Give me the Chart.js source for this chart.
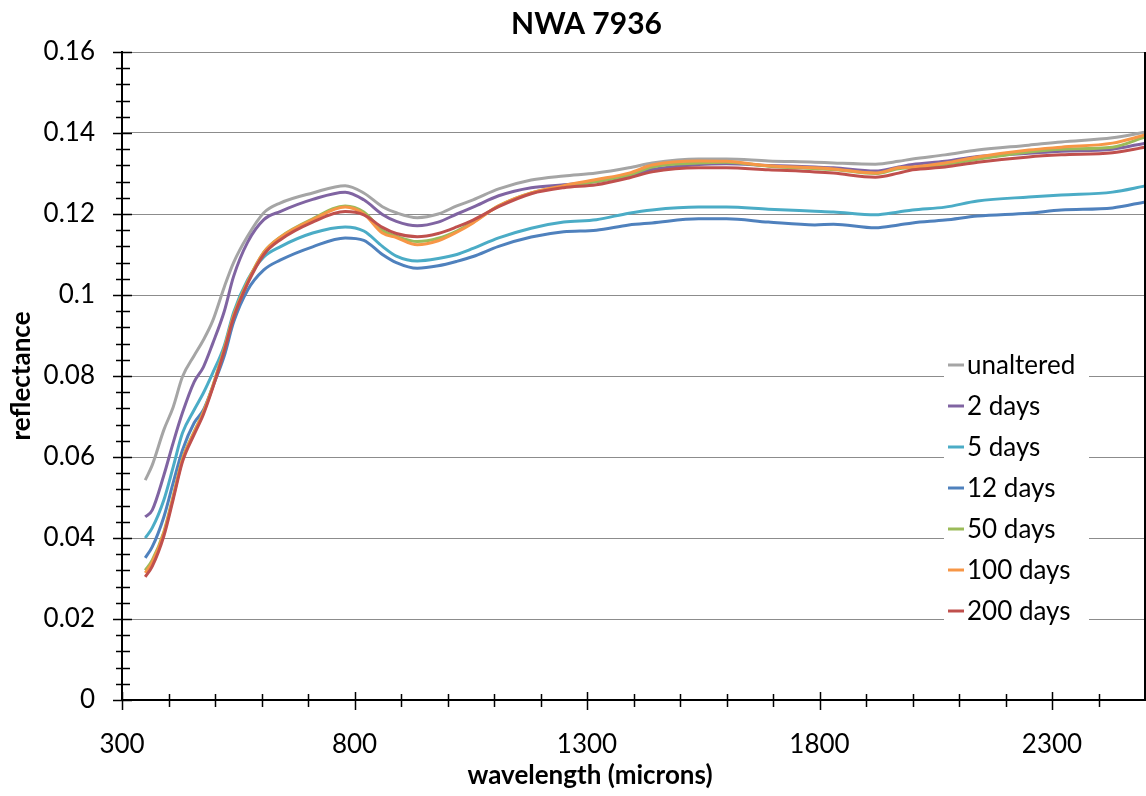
<!DOCTYPE html>
<html><head><meta charset="utf-8">
<script src="https://cdn.jsdelivr.net/npm/chart.js@4.4.0/dist/chart.umd.min.js"></script>
<style>html,body{margin:0;padding:0;background:#fff}#wrap{width:1146px;height:796px}</style>
</head><body><div id="wrap"><canvas id="c" width="1146" height="796"></canvas></div>
<script>
const wavelengths = [350,365,390,410,430,455,475,495,520,540,570,605,640,710,780,820,860,890,935,980,1020,1055,1110,1180,1250,1320,1390,1440,1540,1600,1690,1790,1830,1920,1970,2000,2070,2140,2250,2320,2430,2500];
const unaltered = [.0543,.0580,.0667,.0723,.0798,.0850,.0889,.0936,.1020,.1080,.1145,.1203,.1227,.1252,.1270,.1252,.1218,.1203,.1191,.1200,.1220,.1235,.1262,.1284,.1294,.1301,.1314,.1326,.1336,.1336,.1331,.1328,.1326,.1323,.1330,.1336,.1346,.1358,.1370,.1378,.1388,.1402];
const days2 = [.0452,.0469,.0555,.0635,.0709,.0785,.0822,.0880,.0960,.1046,.1130,.1186,.1206,.1236,.1254,.1235,.1199,.1182,.1171,.1180,.1200,.1217,.1245,.1265,.1272,.1280,.1295,.1310,.1322,.1324,.1320,.1316,.1314,.1306,.1316,.1322,.1330,.1342,.1350,.1355,.1360,.1375];
const days5 = [.0400,.0425,.0494,.0575,.0659,.0716,.0758,.0807,.0875,.0957,.1037,.1094,.1119,.1153,.1168,.1158,.1120,.1096,.1084,.1090,.1100,.1115,.1141,.1165,.1180,.1186,.1202,.1210,.1217,.1217,.1212,.1207,.1205,.1198,.1205,.1210,.1217,.1232,.1242,.1247,.1254,.1269];
const days12 = [.0351,.0378,.0452,.0536,.0617,.0684,.0716,.0773,.0850,.0933,.1012,.1062,.1086,.1119,.1141,.1135,.1100,.1080,.1066,.1072,.1083,.1095,.1120,.1143,.1156,.1160,.1173,.1178,.1188,.1188,.1180,.1173,.1175,.1166,.1173,.1178,.1185,.1195,.1202,.1210,.1215,.1230];
const days50 = [.0320,.0345,.0415,.0503,.0595,.0662,.0711,.0775,.0868,.0950,.1033,.1106,.1143,.1188,.1220,.1205,.1160,.1145,.1132,.1140,.1158,.1180,.1220,.1252,.1267,.1280,.1296,.1316,.1326,.1328,.1318,.1312,.1310,.1300,.1312,.1314,.1322,.1335,.1353,.1360,.1365,.1390];
const days100 = [.0314,.0340,.0412,.0500,.0593,.0660,.0710,.0773,.0866,.0948,.1031,.1105,.1142,.1186,.1217,.1200,.1153,.1142,.1124,.1134,.1155,.1178,.1220,.1252,.1270,.1285,.1301,.1321,.1331,.1330,.1319,.1314,.1311,.1301,.1314,.1316,.1326,.1341,.1358,.1365,.1375,.1395];
const days200 = [.0304,.0330,.0405,.0495,.0588,.0655,.0705,.0770,.0862,.0944,.1028,.1100,.1136,.1180,.1206,.1198,.1167,.1152,.1144,.1152,.1168,.1185,.1218,.1250,.1265,.1272,.1289,.1304,.1314,.1314,.1309,.1304,.1301,.1291,.1301,.1309,.1316,.1328,.1341,.1346,.1351,.1365];
const seriesLabels = ['unaltered','2 days','5 days','12 days','50 days','100 days','200 days'];
const seriesValues = [unaltered, days2, days5, days12, days50, days100, days200];
const seriesColors = ['#A5A5A5','#8064A2','#4BACC6','#4F81BD','#9BBB59','#F79646','#C0504D'];
const xTickValues = [300, 800, 1300, 1800, 2300];
const yTickValues = [0, 0.02, 0.04, 0.06, 0.08, 0.1, 0.12, 0.14, 0.16];
const xMinorStep = 100, yMinorStep = 0.004;

const FONT = 'Lato';
const datasets = seriesLabels.map((lab, i) => ({
  label: lab,
  data: wavelengths.map((w, j) => ({x: w, y: seriesValues[i][j]})),
  borderColor: seriesColors[i],
  backgroundColor: seriesColors[i],
  borderWidth: 3,
  pointRadius: 0,
  cubicInterpolationMode: 'monotone',
  fill: false,
  order: seriesLabels.length - 1 - i
}));

const extras = {
  id: 'extras',
  afterDraw(chart) {
    const {ctx, chartArea: ca, scales: {x, y}} = chart;
    ctx.save();
    ctx.strokeStyle = '#000';
    ctx.lineWidth = 1.5;
    ctx.beginPath();
    const nY = Math.round(0.16 / yMinorStep);
    for (let i = 0; i <= nY; i++) {
      const v = i * yMinorStep;
      const py = Math.round(y.getPixelForValue(v)) + 0.5;
      const major = i % 5 === 0;
      ctx.moveTo(ca.left - (major ? 9 : 6), py);
      ctx.lineTo(ca.left + (major ? 10 : 8), py);
    }
    for (let w = 300; w < 2500; w += xMinorStep) {
      const px = Math.round(x.getPixelForValue(w)) + 0.5;
      const major = xTickValues.includes(w);
      ctx.moveTo(px, ca.bottom - (major ? 8 : 6));
      ctx.lineTo(px, ca.bottom + (major ? 10 : 7));
    }
    ctx.stroke();
    ctx.lineWidth = 2;
    ctx.beginPath();
    ctx.moveTo(ca.right, ca.top); ctx.lineTo(ca.right, ca.bottom);
    ctx.stroke();
    // x axis title
    ctx.fillStyle = '#000';
    ctx.font = 'bold 26px ' + FONT;
    ctx.textAlign = 'center';
    ctx.textBaseline = 'middle';
    ctx.fillText('wavelength (microns)', 590, 776);
    // legend
    ctx.fillStyle = '#fff';
    ctx.fillRect(944, 343, 145, 291);
    ctx.font = '26px ' + FONT;
    ctx.textAlign = 'left';
    chart.data.datasets.forEach((ds, i) => {
      const yy = 365 + i * 41;
      ctx.strokeStyle = ds.borderColor;
      ctx.lineWidth = 3;
      ctx.beginPath();
      ctx.moveTo(948, yy); ctx.lineTo(964, yy);
      ctx.stroke();
      ctx.fillStyle = '#000';
      ctx.fillText(ds.label, 967, yy + 1);
    });
    ctx.restore();
  }
};

new Chart(document.getElementById('c'), {
  type: 'line',
  data: {datasets},
  options: {
    responsive: false,
    animation: false,
    devicePixelRatio: 1,
    layout: {padding: {left: 28, right: 1, top: 0, bottom: 0}},
    plugins: {
      legend: {display: false},
      tooltip: {enabled: false},
      title: {
        display: true, text: 'NWA 7936', color: '#000',
        font: {family: FONT, size: 30, weight: 'bold'},
        padding: {top: 6, bottom: 10}
      }
    },
    scales: {
      x: {
        type: 'linear', min: 300, max: 2500,
        afterBuildTicks: s => { s.ticks = xTickValues.map(v => ({value: v})); },
        afterFit: s => { s.height = 96; },
        grid: {display: false, drawTicks: false},
        border: {display: true, color: '#000', width: 2},
        ticks: {autoSkip: false, maxRotation: 0, color: '#000', padding: 29,
          callback: v => String(v), font: {family: FONT, size: 26}},
      },
      y: {
        type: 'linear', min: 0, max: 0.16,
        afterBuildTicks: s => { s.ticks = yTickValues.map(v => ({value: v})); },
        afterFit: s => { s.width = 94; },
        grid: {color: '#8c8c8c', lineWidth: 1, drawTicks: false},
        border: {display: true, color: '#000', width: 2},
        ticks: {color: '#000', padding: 27, callback: v => String(+(+v).toFixed(2)),
          font: {family: FONT, size: 26}},
        title: {display: true, text: 'reflectance', color: '#000',
          font: {family: FONT, size: 26, weight: 'bold'}, padding: {top: -21.6, bottom: 0}}
      }
    }
  },
  plugins: [extras]
});
</script></body></html>
